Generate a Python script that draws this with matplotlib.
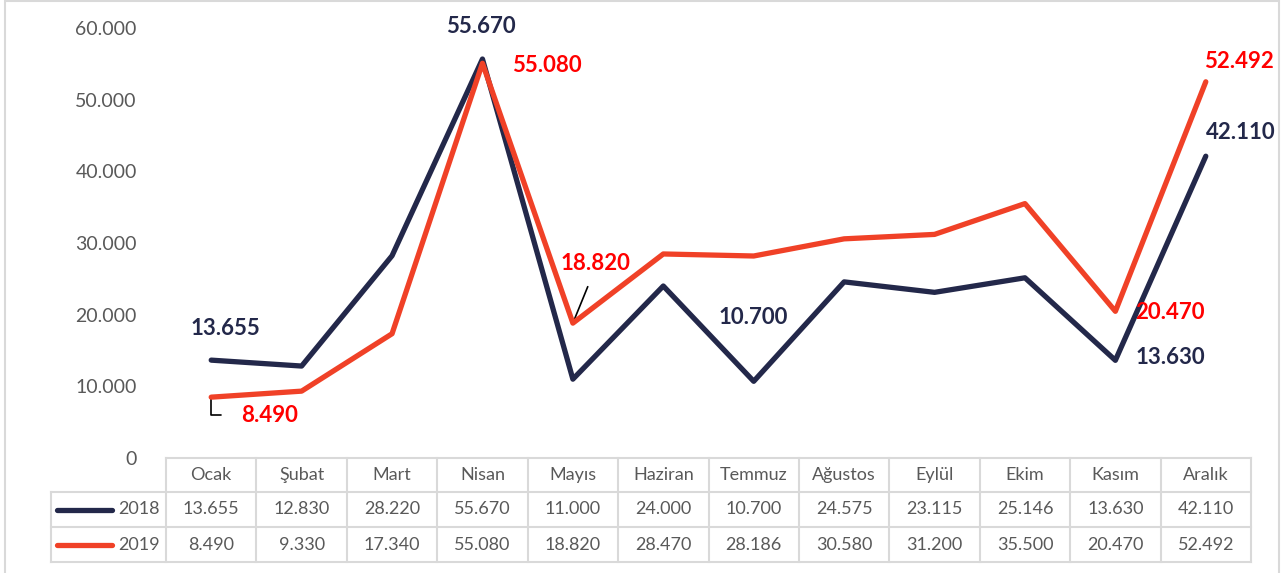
import numpy as np
import matplotlib.pyplot as plt
from matplotlib.ticker import FuncFormatter
from matplotlib.transforms import blended_transform_factory
from matplotlib.lines import Line2D
from matplotlib.patches import Rectangle

plt.rcParams['font.family'] = ['Lato', 'DejaVu Sans']

months = ["Ocak", "Şubat", "Mart", "Nisan", "Mayıs", "Haziran", "Temmuz",
          "Ağustos", "Eylül", "Ekim", "Kasım", "Aralık"]
y2018 = [13655, 12830, 28220, 55670, 11000, 24000, 10700, 24575, 23115, 25146, 13630, 42110]
y2019 = [8490, 9330, 17340, 55080, 18820, 28470, 28186, 30580, 31200, 35500, 20470, 52492]
years = ["2018", "2019"]

c18 = "#23284A"
c19 = "#F04127"
red = "#FF0000"
gray_txt = "#595959"
grid = "#D9D9D9"

def tr(v):
    s = f"{v:,.0f}".replace(",", ".")
    return s

W, H = 1283, 573
fig = plt.figure(figsize=(W / 100, H / 100), dpi=100)
ax = fig.add_axes([166 / W, 1 - 458 / H, (1251 - 166) / W, 430 / H])

x = np.arange(len(months))
ax.plot(x, y2018, color=c18, lw=3.8, solid_capstyle="round", zorder=3)
ax.plot(x, y2019, color=c19, lw=3.8, solid_capstyle="round", zorder=4)

ax.set_xlim(-0.5, len(months) - 0.5)
ax.set_ylim(0, 60000)
ax.set_yticks(np.arange(0, 60001, 10000))
ax.yaxis.set_major_formatter(FuncFormatter(lambda v, p: tr(v)))
ax.tick_params(axis="y", length=0, labelsize=14, labelcolor=gray_txt, pad=21)
ax.set_xticks([])
for s in ax.spines.values():
    s.set_visible(False)

# data labels with pixel offsets from the point
lbl = dict(fontsize=16, fontweight="bold", ha="center", va="center",
           textcoords="offset pixels")
ax.annotate(tr(y2018[0]), (0, y2018[0]), xytext=(14, 32), color=c18, **lbl)
ax.annotate(tr(y2019[0]), (0, y2019[0]), xytext=(58, -18), color=red,
            arrowprops=dict(arrowstyle="-", color="black", lw=1.2,
                            connectionstyle="angle,angleA=0,angleB=90,rad=0",
                            relpos=(0, 0.5), shrinkA=12, shrinkB=1), **lbl)
ax.annotate(tr(y2018[3]), (3, y2018[3]), xytext=(-2, 33), color=c18, **lbl)
ax.annotate(tr(y2019[3]), (3, y2019[3]), xytext=(64, -2), color=red, **lbl)
ax.annotate(tr(y2019[4]), (4, y2019[4]), xytext=(23, 60), color=red,
            arrowprops=dict(arrowstyle="-", color="black", lw=1.2,
                            relpos=(0.46, 0), shrinkA=8, shrinkB=0), **lbl)
ax.annotate(tr(y2018[6]), (6, y2018[6]), xytext=(0, 64), color=c18, **lbl)
ax.annotate(tr(y2018[10]), (10, y2018[10]), xytext=(55, 3), color=c18, **lbl)
ax.annotate(tr(y2019[10]), (10, y2019[10]), xytext=(55, -1), color=red, **lbl)
ax.annotate(tr(y2019[11]), (11, y2019[11]), xytext=(33, 20), color=red, **lbl)
ax.annotate(tr(y2018[11]), (11, y2018[11]), xytext=(35, 24), color=c18, **lbl)

# data table below the axes
trans = blended_transform_factory(ax.transData, ax.transAxes)
rows = [0, -34 / 430, -69 / 430, -104 / 430]
unit = (1251 - 166) / 12
x_left = -0.5 - (166 - 51) / unit
n = len(months)
kw = dict(transform=trans, color=grid, lw=1.5, clip_on=False)
ax.add_line(Line2D([-0.5, n - 0.5], [rows[0]] * 2, **kw))
for r in rows[1:]:
    ax.add_line(Line2D([x_left, n - 0.5], [r] * 2, **kw))
for i in range(n + 1):
    ax.add_line(Line2D([i - 0.5] * 2, [rows[0], rows[3]], **kw))
ax.add_line(Line2D([x_left] * 2, [rows[1], rows[3]], **kw))

tk = dict(transform=trans, ha="center", va="center", fontsize=13, color=gray_txt, clip_on=False)
for i, m in enumerate(months):
    ax.text(i, (rows[0] + rows[1]) / 2, m, **tk)
    ax.text(i, (rows[1] + rows[2]) / 2, tr(y2018[i]), **tk)
    ax.text(i, (rows[2] + rows[3]) / 2, tr(y2019[i]), **tk)

key_x0 = -0.5 - (166 - 57) / unit
key_x1 = -0.5 - (166 - 112) / unit
for j, (yr, c) in enumerate(zip(years, [c18, c19])):
    yc = (rows[j + 1] + rows[j + 2]) / 2
    ax.add_line(Line2D([key_x0, key_x1], [yc, yc], transform=trans, color=c, lw=3.8,
                       solid_capstyle="round", clip_on=False))
    ax.text(-0.5 - 6 / unit, yc, yr, transform=trans, ha="right", va="center",
            fontsize=13, color=gray_txt, clip_on=False)

# outer chart border
fig.patches.append(Rectangle((5 / W, -0.01), (1279 - 5) / W, 1 - 1 / H + 0.01,
                             transform=fig.transFigure, fill=False, ec=grid, lw=1.5))

fig.savefig("out.png", dpi=100)
